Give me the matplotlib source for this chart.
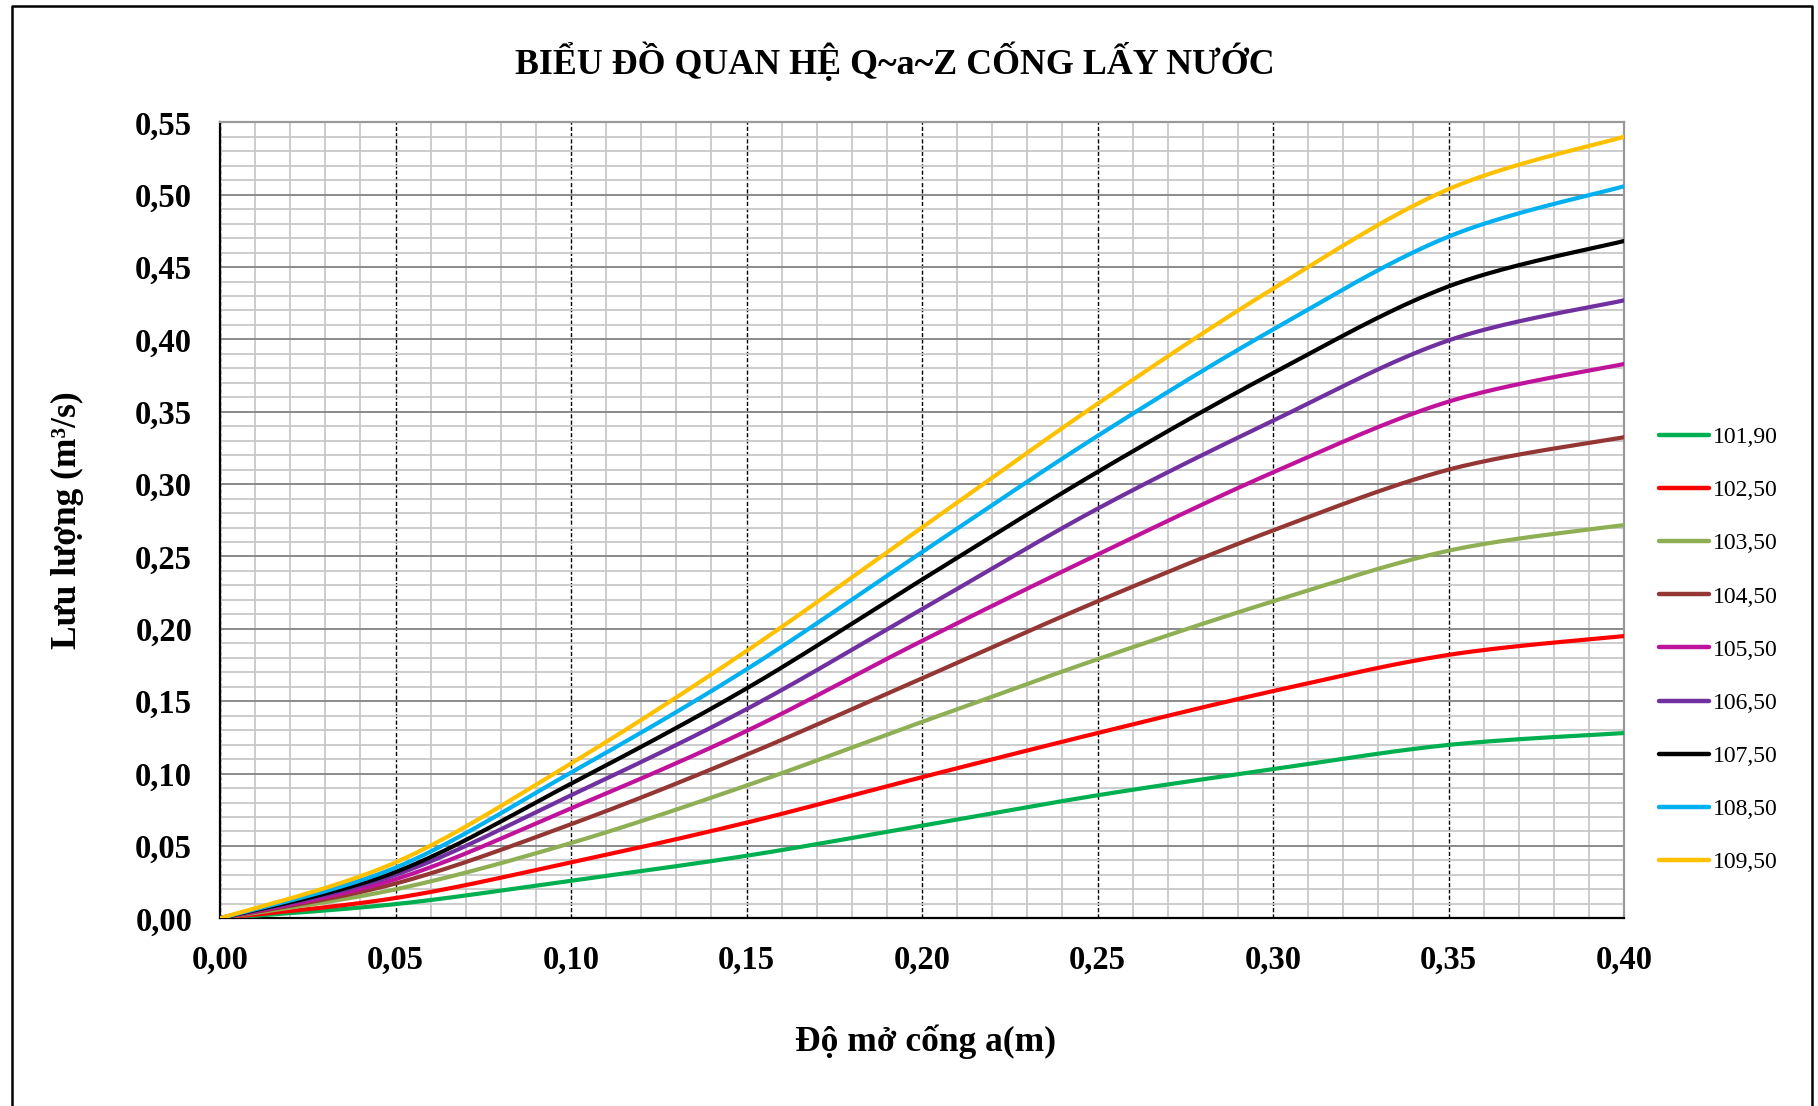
import numpy as np
import matplotlib.pyplot as plt
from matplotlib.lines import Line2D
from matplotlib.ticker import MultipleLocator, FuncFormatter

# gate opening a (m)
a = [0.00, 0.05, 0.10, 0.15, 0.20, 0.25, 0.30, 0.35, 0.40]

# discharge Q (m3/s) for each upstream water level Z
levels = ["101,90", "102,50", "103,50", "104,50", "105,50",
          "106,50", "107,50", "108,50", "109,50"]
q_101_90 = [0, 0.0098, 0.026, 0.0432, 0.064, 0.085, 0.103, 0.1198, 0.128]
q_102_50 = [0, 0.014, 0.0386, 0.0661, 0.0975, 0.128, 0.157, 0.182, 0.195]
q_103_50 = [0, 0.020, 0.052, 0.0917, 0.1357, 0.179, 0.219, 0.254, 0.2717]
q_104_50 = [0, 0.024, 0.065, 0.113, 0.1658, 0.219, 0.268, 0.310, 0.3324]
q_105_50 = [0, 0.027, 0.076, 0.1294, 0.1917, 0.2513, 0.3081, 0.357, 0.383]
q_106_50 = [0, 0.030, 0.085, 0.1445, 0.2136, 0.283, 0.3438, 0.3993, 0.427]
q_107_50 = [0, 0.032, 0.093, 0.1588, 0.234, 0.3084, 0.3767, 0.4366, 0.468]
q_108_50 = [0, 0.035, 0.1007, 0.172, 0.253, 0.3333, 0.4068, 0.471, 0.5058]
q_109_50 = [0, 0.0386, 0.107, 0.1847, 0.270, 0.3555, 0.435, 0.5038, 0.540]

series = [q_101_90, q_102_50, q_103_50, q_104_50, q_105_50,
          q_106_50, q_107_50, q_108_50, q_109_50]
colors = ["#00B050", "#FF0000", "#8FAF55", "#943634", "#C0139B",
          "#7030A0", "#000000", "#00B0F0", "#FFC000"]

x_ticks = [0.00, 0.05, 0.10, 0.15, 0.20, 0.25, 0.30, 0.35, 0.40]
y_ticks = [0.00, 0.05, 0.10, 0.15, 0.20, 0.25, 0.30, 0.35, 0.40, 0.45, 0.50, 0.55]


def smooth(x, y, n=40):
    # excel style "smoothed line": bezier segments through the points
    x = np.asarray(x, float)
    y = np.asarray(y, float)
    px = np.concatenate([[x[0]], x, [x[-1]]])
    py = np.concatenate([[y[0]], y, [y[-1]]])
    t = np.linspace(0, 1, n)
    xs, ys = [], []
    for i in range(1, len(px) - 2):
        x0, x1, x2, x3 = px[i - 1], px[i], px[i + 1], px[i + 2]
        y0, y1, y2, y3 = py[i - 1], py[i], py[i + 1], py[i + 2]
        cx1, cy1 = x1 + (x2 - x0) / 6, y1 + (y2 - y0) / 6
        cx2, cy2 = x2 - (x3 - x1) / 6, y2 - (y3 - y1) / 6
        b0, b1, b2, b3 = (1 - t) ** 3, 3 * (1 - t) ** 2 * t, 3 * (1 - t) * t ** 2, t ** 3
        xs.append(b0 * x1 + b1 * cx1 + b2 * cx2 + b3 * x2)
        ys.append(b0 * y1 + b1 * cy1 + b2 * cy2 + b3 * y2)
    return np.concatenate(xs), np.concatenate(ys)


plt.rcParams['font.family'] = ['Liberation Serif', 'DejaVu Serif']

fig = plt.figure(figsize=(18.18, 11.06), dpi=100)
ax = fig.add_axes([220 / 1818, 1 - 918.3 / 1106, (1624 - 220) / 1818, (918.3 - 122.3) / 1106])

for q, c, lab in zip(series, colors, levels):
    sx, sy = smooth(a, q)
    ax.plot(sx, sy, color=c, lw=3.0, label=lab, solid_capstyle='round', zorder=3)

ax.set_xlim(0, 0.40)
ax.set_ylim(0, 0.55)
ax.set_xticks(x_ticks)
ax.set_yticks(y_ticks)
ax.xaxis.set_minor_locator(MultipleLocator(0.01))
ax.yaxis.set_minor_locator(MultipleLocator(0.01))
fmt = FuncFormatter(lambda v, p: f"{v:.2f}".replace(".", ","))
ax.xaxis.set_major_formatter(fmt)
ax.yaxis.set_major_formatter(fmt)

ax.set_axisbelow(True)
ax.grid(which='minor', color='#c8c8c8', lw=1.3)
ax.grid(which='major', axis='y', color='#8a8a8a', lw=1.4)
ax.grid(which='major', axis='x', color='black', lw=1.0, ls=(0, (3, 1.5)))

for s in ['left', 'bottom']:
    ax.spines[s].set_color('black')
    ax.spines[s].set_linewidth(1.6)
for s in ['top', 'right']:
    ax.spines[s].set_color('#9a9a9a')
    ax.spines[s].set_linewidth(1.6)

ax.tick_params(which='both', length=0)
ax.tick_params(axis='y', pad=20)
ax.tick_params(axis='x', pad=19)
for lbl in ax.get_xticklabels() + ax.get_yticklabels():
    lbl.set_fontsize(23.5)
    lbl.set_fontweight('bold')

fig.text(895 / 1818, 1 - 62 / 1106, "BIỂU ĐỒ QUAN HỆ Q~a~Z CỐNG LẤY NƯỚC",
         ha='center', va='center', fontsize=25.8, fontweight='bold')
fig.text(925 / 1818, 1 - 1042 / 1106, "Độ mở cống a(m)",
         ha='center', va='center', fontsize=25.5, fontweight='bold')
fig.text(67 / 1818, 1 - 520 / 1106, "Lưu lượng (m³/s)", rotation=90,
         ha='center', va='center', fontsize=25.5, fontweight='bold')

fig.legend(loc='center left', bbox_to_anchor=(1650 / 1818, 1 - 650 / 1106),
           frameon=False, fontsize=17, handlelength=2.1, handletextpad=0.15,
           labelspacing=1.34, borderaxespad=0)
for h in fig.legends[0].get_lines():
    h.set_linewidth(3.2)

# outer chart frame
fig.add_artist(Line2D([12 / 1818, 12 / 1818, 1812 / 1818, 1812 / 1818],
                      [0, 1 - 6 / 1106, 1 - 6 / 1106, 0],
                      transform=fig.transFigure, color='black', lw=1.8))

fig.savefig("out.png", dpi=100)
